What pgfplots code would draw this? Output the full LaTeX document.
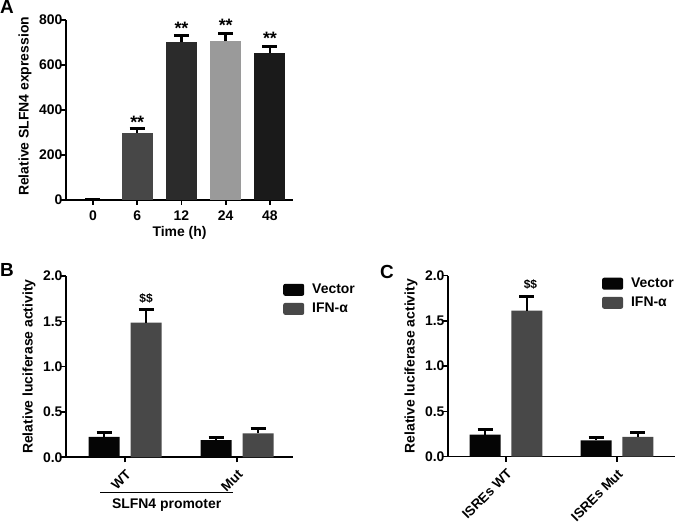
\documentclass[border=0pt]{standalone}
\usepackage{fontspec}
\setmainfont{Liberation Sans}
\usepackage{pgfplots}
\pgfplotsset{compat=1.18}
\definecolor{gA}{HTML}{474747}
\definecolor{gB}{HTML}{2B2B2B}
\definecolor{gC}{HTML}{9A9A9A}
\definecolor{gD}{HTML}{1A1A1A}
\definecolor{gV}{HTML}{050505}
\definecolor{gI}{HTML}{484848}
\pgfplotsset{
  common/.style={
    scale only axis,
    axis lines*=left,
    axis line style={line width=1.6bp, black},
    tick align=outside,
    major tick length=5bp,
    every tick/.style={line width=1.6bp, black},
    tick label style={font=\bfseries\fontsize{14}{14}\selectfont},
    yticklabel style={xshift=5bp},
    label style={font=\bfseries\fontsize{14}{14}\selectfont},
    /pgf/number format/assume math mode=true,
    ymin=0,
    clip=false,
  },
  ebar/.style={
    error bars/.cd, y dir=plus, y explicit,
    error bar style={line width=2.5bp, black},
    error mark options={rotate=90, mark size=7.5bp, line width=3bp, black},
  },
  bplot/.style={ybar, bar width=31bp, bar shift=0pt, draw=none, forget plot},
  rotlab/.style={
    xticklabel style={rotate=45, anchor=north east, inner sep=1bp, font=\bfseries\fontsize{13.5}{13.5}\selectfont},
    xticklabel shift=5bp,
  },
  lgd/.style={
    legend image code/.code={\fill[##1, draw=none, rounded corners=2bp] (0bp,-6bp) rectangle (21bp,6bp); \path[draw=none, fill=none] (0bp,0bp) rectangle (28bp,0.1bp);},
    legend style={draw=none, fill=none, inner sep=0pt, anchor=north west,
      font=\bfseries\fontsize{14}{14}\selectfont, row sep=6bp,
      nodes={inner sep=1bp}},
    legend cell align=left,
  },
}
\begin{document}
\begin{tikzpicture}[x=1bp,y=1bp]
\useasboundingbox (0,0) rectangle (675,523);
% Panel A
\begin{axis}[common,
  at={(66bp,323bp)}, anchor=south west,
  width=227bp, height=180bp,
  xmin=-0.61, xmax=4.52, ymax=800,
  xtick={0,1,2,3,4}, xticklabels={0,6,12,24,48},
  xticklabel style={yshift=-2bp},
  ytick={0,200,400,600,800},
  xlabel={Time (h)},
  ylabel={Relative SLFN4 expression},
  every axis x label/.append style={at={(axis description cs:0.5,0)}, anchor=center, yshift=-33bp},
  every axis y label/.append style={at={(axis description cs:-0.1806,0.52)}, anchor=center},
]
\addplot[bplot, fill=black, ebar] coordinates {(0,3) +- (0,0)};
\addplot[bplot, fill=gA, ebar] coordinates {(1,297) +- (0,20)};
\addplot[bplot, fill=gB, ebar] coordinates {(2,700) +- (0,30)};
\addplot[bplot, fill=gC, ebar] coordinates {(3,705) +- (0,35)};
\addplot[bplot, fill=gD, ebar] coordinates {(4,652) +- (0,30)};
\node[anchor=north, inner sep=0pt, font=\bfseries\fontsize{18}{18}\selectfont] at (axis cs:1,373) {**};
\node[anchor=north, inner sep=0pt, font=\bfseries\fontsize{18}{18}\selectfont] at (axis cs:2,792) {**};
\node[anchor=north, inner sep=0pt, font=\bfseries\fontsize{18}{18}\selectfont] at (axis cs:3,803) {**};
\node[anchor=north, inner sep=0pt, font=\bfseries\fontsize{18}{18}\selectfont] at (axis cs:4,748) {**};
\end{axis}
% Panel B
\begin{axis}[common, lgd, rotlab,
  at={(66bp,65.7bp)}, anchor=south west,
  width=227bp, height=181.3bp,
  xmin=-0.527, xmax=1.5, ymax=2,
  xtick={0,1}, xticklabels={WT,Mut},
  ytick={0,0.5,1,1.5,2},
  yticklabel style={/pgf/number format/.cd, fixed, fixed zerofill, precision=1},
  ylabel={Relative luciferase activity},
  every axis y label/.append style={at={(axis description cs:-0.163,0.5)}, anchor=center},
  legend style={at={(axis description cs:0.956,0.961)}},
]
\addlegendimage{fill=gV}\addlegendentry{Vector}
\addlegendimage{fill=gI}\addlegendentry{IFN-α}
\addplot[bplot, fill=gV, ebar] coordinates {(-0.1875,0.225) +- (0,0.05) (0.8125,0.19) +- (0,0.03)};
\addplot[bplot, fill=gI, ebar] coordinates {(0.1875,1.485) +- (0,0.14) (1.1875,0.265) +- (0,0.05)};
\node[anchor=center, inner sep=0pt, font=\bfseries\fontsize{12}{12}\selectfont] at (axis cs:0.1875,1.754) {\$\$};
\end{axis}
\draw[line width=1.5bp] (100,30.3) -- (233,30.3);
\node[font=\bfseries\fontsize{14}{14}\selectfont, anchor=center] at (166.7,17.5) {SLFN4 promoter};
% Panel C
\begin{axis}[common, lgd, rotlab,
  at={(448bp,66.3bp)}, anchor=south west,
  width=227bp, height=181bp,
  xmin=-0.5225, xmax=1.5225, ymax=2,
  xtick={0,1}, xticklabels={ISREs WT,ISREs Mut},
  ytick={0,0.5,1,1.5,2},
  yticklabel style={/pgf/number format/.cd, fixed, fixed zerofill, precision=1},
  ylabel={Relative luciferase activity},
  every axis y label/.append style={at={(axis description cs:-0.163,0.5)}, anchor=center},
  legend style={at={(axis description cs:0.678,0.993)}},
]
\addlegendimage{fill=gV}\addlegendentry{Vector}
\addlegendimage{fill=gI}\addlegendentry{IFN-α}
\addplot[bplot, fill=gV, ebar] coordinates {(-0.189,0.245) +- (0,0.05) (0.811,0.18) +- (0,0.03)};
\addplot[bplot, fill=gI, ebar] coordinates {(0.189,1.615) +- (0,0.15) (1.189,0.22) +- (0,0.05)};
\node[anchor=center, inner sep=0pt, font=\bfseries\fontsize{12}{12}\selectfont] at (axis cs:0.22,1.906) {\$\$};
\end{axis}
% panel letters
\node[font=\bfseries\fontsize{19}{19}\selectfont, anchor=center] at (7,516) {A};
\node[font=\bfseries\fontsize{19}{19}\selectfont, anchor=center] at (7,253) {B};
\node[font=\bfseries\fontsize{19}{19}\selectfont, anchor=center] at (387,251) {C};
\end{tikzpicture}
\end{document}
